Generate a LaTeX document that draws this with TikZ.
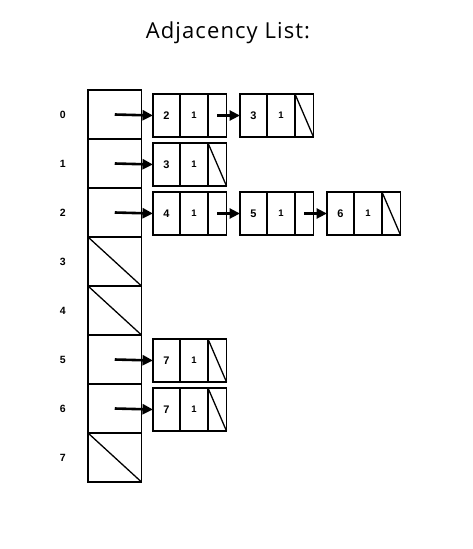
\documentclass[tikz,border=0pt]{standalone}
\usepackage{fontspec}
\setmainfont{Liberation Sans}
\newfontfamily\titlefont[LetterSpace=5]{Open Sans}
\usetikzlibrary{arrows.meta}
\tikzset{
  arr/.style={line width=2.6pt,-{Triangle[length=10.5pt,width=10pt]}},
  acell/.style={draw,line width=1.2pt,minimum width=53.5pt,minimum height=49pt,inner sep=0pt,outer sep=0pt},
  lcell/.style={draw,line width=1.3pt,minimum height=43pt,inner sep=0pt,outer sep=0pt},
  vcell/.style={lcell,minimum width=27pt,font=\fontsize{11}{11}\selectfont\bfseries},
  wcell/.style={lcell,minimum width=28pt,font=\fontsize{9.5}{9.5}\selectfont\bfseries},
  pcell/.style={lcell,minimum width=18.5pt},
  idx/.style={font=\fontsize{10.5}{10.5}\selectfont\bfseries,inner sep=0pt},
  divider/.style={line width=2pt},
  nullslash/.style={line width=1.3pt},
  title/.style={font=\titlefont\fontsize{22}{22}\selectfont,inner sep=0pt}
}
% list element: #1 row, #2 position k, #3 value, #4 weight
\newcommand{\lelem}[4]{%
  \pgfmathsetmacro{\ex}{153+87*#2}%
  \pgfmathsetmacro{\ey}{90+49*(#1+0.5)+1}%
  \node[vcell,anchor=west] (e#1#2v) at (\ex,\ey) {#3};
  \node[wcell,anchor=west] (e#1#2w) at (e#1#2v.east) {#4};
  \node[pcell,anchor=west] (e#1#2p) at (e#1#2w.east) {};
  \draw[divider] (e#1#2w.north west) -- (e#1#2w.south west);
  \draw[divider] (e#1#2p.north west) -- (e#1#2p.south west);
}
\begin{document}
\begin{tikzpicture}[x=1pt,y=-1pt]
\useasboundingbox (0,0) rectangle (473,549);
\node[title] (t) at (228,33) {Adjacency List:};
% array
\foreach \i in {0,...,7}{
  \node[acell] (a\i) at (114.75,{90+49*(\i+0.5)}) {};
  \node[idx] (l\i) at (62.7,{90+49*(\i+0.5)}) {\i};
}
\foreach \i in {3,4,7}{
  \draw[nullslash] (a\i.north west) -- (a\i.south east);
}
% lists
\lelem{0}{0}{2}{1}
\lelem{0}{1}{3}{1}
\lelem{1}{0}{3}{1}
\lelem{2}{0}{4}{1}
\lelem{2}{1}{5}{1}
\lelem{2}{2}{6}{1}
\lelem{5}{0}{7}{1}
\lelem{6}{0}{7}{1}
% null ends
\foreach \n in {01,10,22,50,60}{
  \draw[nullslash] (e\n p.north west) -- (e\n p.south east);
}
% arrows from array
\foreach \i in {0,1,2,5,6}{
  \draw[arr] (a\i.center) -- (e\i0v.west);
}
% arrows between elements
\draw[arr] (e00p.center) -- (e01v.west);
\draw[arr] (e20p.center) -- (e21v.west);
\draw[arr] (e21p.center) -- (e22v.west);
\end{tikzpicture}
\end{document}
